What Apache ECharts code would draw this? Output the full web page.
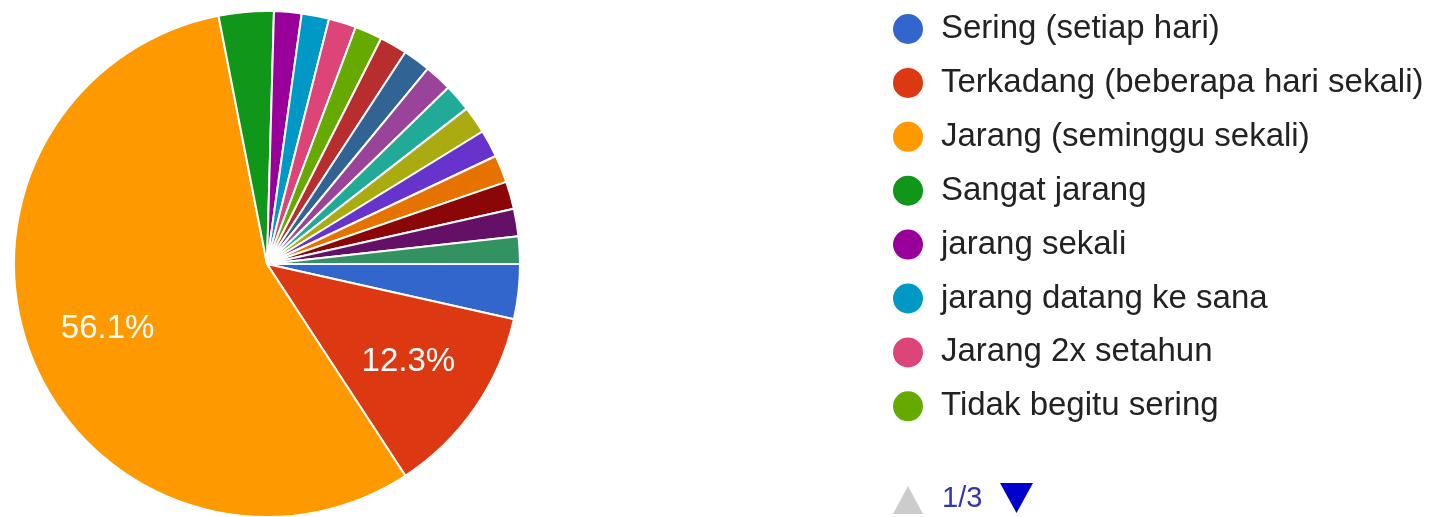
<!DOCTYPE html>
<html>
<head>
<meta charset="utf-8">
<script src="https://cdn.jsdelivr.net/npm/echarts@6/dist/echarts.min.js"></script>
<style>
  html, body { margin: 0; padding: 0; background: #fff; }
  #chart { width: 1447px; height: 517px; }
</style>
</head>
<body>
<div id="chart"></div>
<script>
// Answer categories (in slice order, clockwise from 3 o'clock)
const categories = [
  'Sering (setiap hari)',
  'Terkadang (beberapa hari sekali)',
  'Jarang (seminggu sekali)',
  'Sangat jarang',
  'jarang sekali',
  'jarang datang ke sana',
  'Jarang 2x setahun',
  'Tidak begitu sering',
  'Sebulan sekali',
  'Kadang-kadang',
  'Hanya saat libur',
  'Setahun sekali',
  'Belum pernah',
  'Sesekali saja',
  'Tergantung kebutuhan',
  'Jarang, kalau ada acara',
  'Tidak pernah',
  'Hampir tidak pernah'
];

// Number of responses per category
const responses = [2, 7, 32, 2, 1, 1, 1, 1, 1, 1, 1, 1, 1, 1, 1, 1, 1, 1];

// Slice colours
const palette = [
  '#3366cc', '#dc3912', '#ff9900', '#109618', '#990099', '#0099c6',
  '#dd4477', '#66aa00', '#b82e2e', '#316395', '#994499', '#22aa99',
  '#aaaa11', '#6633cc', '#e67300', '#8b0707', '#651067', '#329262'
];

const legendPageSize = 8;
const pageCount = Math.ceil(categories.length / legendPageSize);

const pieData = categories.map((name, i) => ({ name, value: responses[i] }));
const FONT = '"Liberation Sans", Arial, sans-serif';

const chart = echarts.init(document.getElementById('chart'), null, { renderer: 'canvas' });

chart.setOption({
  animation: false,
  color: palette,
  legend: {
    type: 'plain',
    orient: 'vertical',
    left: 891,
    top: 12,
    padding: 0,
    icon: 'circle',
    itemWidth: 32,
    itemHeight: 32,
    itemGap: 19.9,
    selectedMode: false,
    data: categories.slice(0, legendPageSize),
    textStyle: {
      fontFamily: FONT,
      fontSize: 33,
      lineHeight: 32,
      color: '#222222',
      padding: [0, 0, 0, 12]
    }
  },
  graphic: [
    {
      type: 'polygon',
      shape: { points: [[908, 486], [923, 514], [893, 514]] },
      style: { fill: '#cccccc' }
    },
    {
      type: 'text',
      left: 942,
      top: 484,
      style: {
        text: '1/' + pageCount,
        fontFamily: FONT,
        fontSize: 29,
        fill: '#3535b0'
      }
    },
    {
      type: 'polygon',
      shape: { points: [[1000, 483], [1033, 483], [1016.5, 513]] },
      style: { fill: '#0000cc' }
    }
  ],
  series: [
    {
      type: 'pie',
      center: [267, 264],
      radius: [0, 253],
      startAngle: 0,
      clockwise: true,
      avoidLabelOverlap: false,
      label: { show: false },
      labelLine: { show: false },
      emphasis: { disabled: true },
      itemStyle: { borderColor: '#ffffff', borderWidth: 2 },
      data: pieData
    },
    {
      // transparent ring that carries the percentage labels
      type: 'pie',
      center: [267, 264],
      radius: [85, 253],
      startAngle: 0,
      clockwise: true,
      silent: true,
      percentPrecision: 1,
      avoidLabelOverlap: false,
      emphasis: { disabled: true },
      itemStyle: { color: 'rgba(0,0,0,0)', borderWidth: 0 },
      label: {
        show: true,
        position: 'inside',
        fontFamily: FONT,
        fontSize: 33,
        color: '#ffffff',
        formatter: p => (p.percent >= 5 ? p.percent.toFixed(1) + '%' : '')
      },
      labelLine: { show: false },
      data: pieData
    }
  ]
});
</script>
</body>
</html>
